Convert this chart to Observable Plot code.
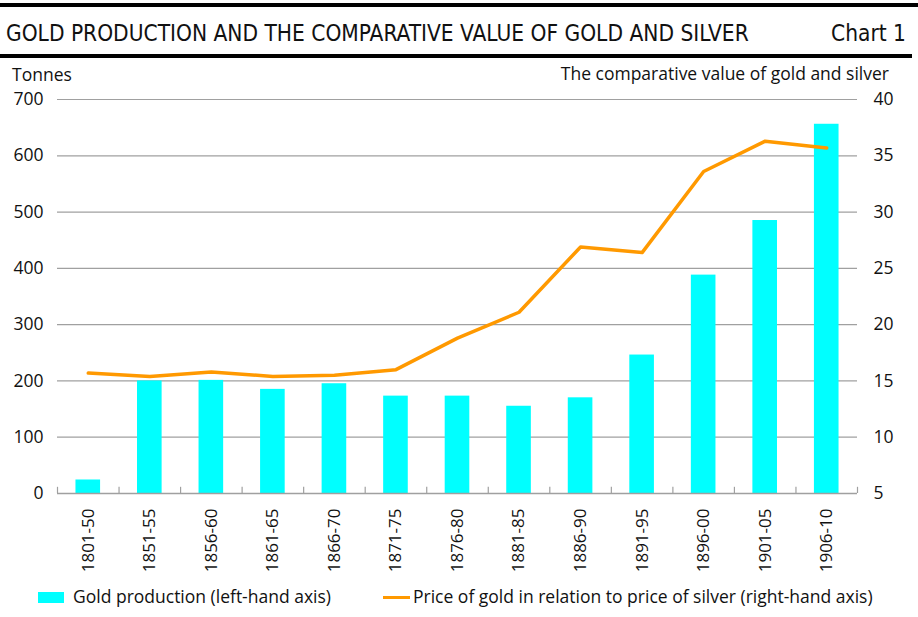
<!DOCTYPE html>
<html><head><meta charset="utf-8">
<script src="https://cdn.jsdelivr.net/npm/d3@7"></script>
<script src="https://cdn.jsdelivr.net/npm/@observablehq/plot@0.6"></script>
<style>
body{margin:0;background:#fff;font-family:"Open Sans","Noto Sans",sans-serif;color:#111;}
#wrap{position:relative;width:918px;height:617px;overflow:hidden;}
.abs{position:absolute;white-space:nowrap;line-height:1;}
.cond{font-family:'Liberation Sans Narrow','DejaVu Sans Condensed',sans-serif;font-size:22.5px;}
</style></head>
<body><div id="wrap">
<div id="chart" class="abs" style="left:0;top:0;"></div>
<div class="abs" style="left:0;top:3px;width:918px;height:4px;background:#000"></div>
<div class="abs cond" style="left:6px;top:22px;">GOLD PRODUCTION AND THE COMPARATIVE VALUE OF GOLD AND SILVER</div>
<div class="abs cond" style="right:12px;top:22px;">Chart 1</div>
<div class="abs" style="left:0;top:54px;width:912px;height:4px;background:#000"></div>
<div class="abs" style="left:12px;top:66px;font-size:17.5px;">Tonnes</div>
<div class="abs" style="right:29px;top:65px;font-size:17.5px;">The comparative value of gold and silver</div>
<div class="abs" style="left:38px;top:592px;width:26px;height:11px;background:#00ffff"></div>
<div class="abs" style="left:73px;top:588px;font-size:17.5px;">Gold production (left-hand axis)</div>
<div class="abs" style="left:383px;top:596px;width:27px;height:3px;background:#ff9900"></div>
<div class="abs" style="left:413px;top:588px;font-size:17.5px;">Price of gold in relation to price of silver (right-hand axis)</div>
</div>
<script>
const periods = ["1801-50","1851-55","1856-60","1861-65","1866-70","1871-75","1876-80","1881-85","1886-90","1891-95","1896-00","1901-05","1906-10"];
const goldTonnes = [24, 200, 201, 185, 195, 173, 173, 155, 170, 246, 388, 485, 656];
const goldSilverRatio = [15.7, 15.4, 15.8, 15.4, 15.5, 16.0, 18.8, 21.1, 26.9, 26.4, 33.6, 36.3, 35.7];
const leftTicks = [0, 100, 200, 300, 400, 500, 600, 700];
const rightMin = 5, rightMax = 40;

const toLeft = v => (v - rightMin) * 700 / (rightMax - rightMin);
const toRight = v => rightMin + v * (rightMax - rightMin) / 700;

const rows = periods.map((p, i) => ({p, i, gold: goldTonnes[i], ratio: goldSilverRatio[i]}));
const font = "'Open Sans','Noto Sans',sans-serif";

const chart = Plot.plot({
  width: 918, height: 617,
  marginTop: 99, marginBottom: 124, marginLeft: 57, marginRight: 61,
  x: {domain: [0, periods.length], axis: null},
  y: {domain: [0, 700], axis: null},
  style: {fontFamily: font, fontSize: "17px", color: "#111", background: "transparent"},
  marks: [
    Plot.ruleY(leftTicks, {stroke: "#a0a0a0", strokeWidth: 1.2}),
    Plot.rectY(rows, {x1: d => d.i + 0.3, x2: d => d.i + 0.7, y: "gold", fill: "#00ffff"}),
    Plot.ruleY([0], {stroke: "#a0a0a0", strokeWidth: 1.5}),
    Plot.ruleX(d3.range(periods.length + 1), {y1: 0, y2: 11, stroke: "#a0a0a0", strokeWidth: 1.2}),
    Plot.text(rows, {x: d => d.i + 0.5, y: 0, text: "p", rotate: -90, textAnchor: "end", dy: 15, fontSize: 17, fill: "#111"}),
    Plot.line(rows, {x: d => d.i + 0.5, y: d => toLeft(d.ratio), stroke: "#ff9900", strokeWidth: 3.5, strokeLinejoin: "round"}),
    Plot.axisY({anchor: "left", ticks: leftTicks, label: null, tickSize: 0, tickPadding: 14, fontSize: 17.5}),
    Plot.axisY({anchor: "right", ticks: leftTicks, label: null, tickSize: 0, tickPadding: 16, tickFormat: d => String(toRight(d)), fontSize: 17.5})
  ]
});
document.getElementById("chart").appendChild(chart);
</script>
</body></html>
